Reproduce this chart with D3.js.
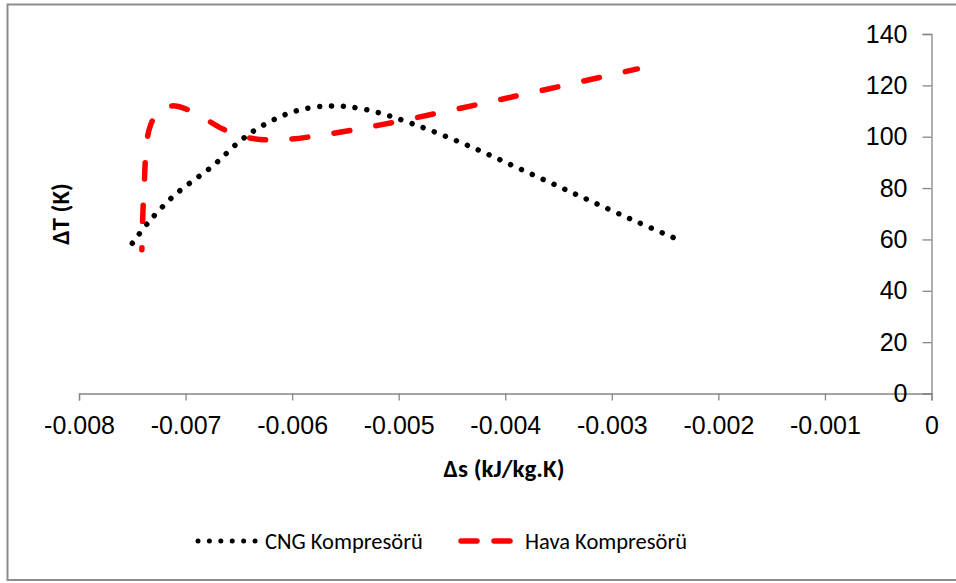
<!DOCTYPE html>
<html>
<head>
<meta charset="utf-8">
<script src="https://cdn.jsdelivr.net/npm/d3@7"></script>
<style>
  body { margin: 0; background: #fff; }
  svg { display: block; font-family: Carlito, "Open Sans", "Noto Sans", sans-serif; }
</style>
</head>
<body>
<svg id="chart" width="956" height="583"></svg>
<script>
// values
const cngS  = [-0.00750, -0.00735, -0.00711, -0.00674, -0.00649, -0.00630, -0.00599, -0.00564, -0.00530, -0.00486, -0.00433, -0.00380, -0.00328, -0.00280, -0.00241];
const cngT  = [58.5, 66.6, 77, 88.8, 98.3, 103.8, 109.7, 112, 110.5, 104.9, 96.2, 86.3, 76.5, 67.5, 60.5];
const havaS = [-0.00741, -0.00739, -0.00734, -0.00724, -0.00710, -0.00690, -0.00665, -0.00640, -0.00610, -0.00570, -0.00517, -0.00442, -0.00364, -0.00276];
const havaT = [56, 80, 103, 110.5, 112, 109, 103, 99.5, 98.8, 100.8, 104.6, 111.1, 118.2, 126.4];
const xTicks = [-0.008, -0.007, -0.006, -0.005, -0.004, -0.003, -0.002, -0.001, 0];
const yTicks = [0, 20, 40, 60, 80, 100, 120, 140];
const seriesNames = ["CNG Kompresörü", "Hava Kompresörü"];

const svg = d3.select("#chart");
const tickFont = "25px";
const titleFont = "25px";
const legendFont = "22.5px";

// outer chart border
svg.append("rect")
    .attr("x", 7.5).attr("y", 4.5)
    .attr("width", 960).attr("height", 575.5)
    .attr("fill", "#fff")
    .attr("stroke", "#8c8c8c")
    .attr("stroke-width", 2);

// scales
const x = d3.scaleLinear().domain([-0.008, 0]).range([79, 931.5]);
const y = d3.scaleLinear().domain([0, 140]).range([393.5, 34]);

const axisColor = "#868686";

// x axis
const xAxis = svg.append("g")
    .attr("transform", `translate(0, ${y(0)})`)
    .call(d3.axisBottom(x).tickValues(xTicks).tickSize(7).tickPadding(16)
        .tickFormat(d => d === 0 ? "0" : d3.format(".3f")(d).replace("−", "-")));
xAxis.select(".domain").attr("stroke", axisColor).attr("stroke-width", 1.3);
xAxis.selectAll(".tick line").attr("stroke", axisColor).attr("stroke-width", 1.3);
xAxis.selectAll(".tick text").attr("font-size", tickFont).attr("fill", "#000");

// y axis sits on the right edge (at x = 0)
const yAxis = svg.append("g")
    .attr("transform", `translate(${x(0)}, 0)`)
    .call(d3.axisLeft(y).tickValues(yTicks).tickSize(9).tickPadding(15));
yAxis.select(".domain").attr("stroke", axisColor).attr("stroke-width", 1.3);
yAxis.selectAll(".tick line").attr("stroke", axisColor).attr("stroke-width", 1.3);
yAxis.selectAll(".tick text").attr("font-size", tickFont).attr("fill", "#000");

// axis titles
svg.append("text")
    .attr("x", 504).attr("y", 477)
    .attr("text-anchor", "middle")
    .attr("font-size", titleFont).attr("font-weight", "bold")
    .text("Δs (kJ/kg.K)");

svg.append("text")
    .attr("transform", "translate(69, 214) rotate(-90)")
    .attr("text-anchor", "middle")
    .attr("font-size", titleFont).attr("font-weight", "bold")
    .text("ΔT (K)");

// lines
const line = d3.line()
    .x(d => x(d[0]))
    .y(d => y(d[1]))
    .curve(d3.curveCatmullRom.alpha(0.5));

const cngData  = cngS.map((s, i) => [s, cngT[i]]);
const havaData = havaS.map((s, i) => [s, havaT[i]]);

svg.append("path")
    .datum(cngData)
    .attr("d", line)
    .attr("fill", "none")
    .attr("stroke", "#000")
    .attr("stroke-width", 5.5)
    .attr("stroke-linecap", "round")
    .attr("stroke-dasharray", "0.01 11.85");

svg.append("path")
    .datum(havaData)
    .attr("d", line)
    .attr("fill", "none")
    .attr("stroke", "#ff0000")
    .attr("stroke-width", 5.5)
    .attr("stroke-linecap", "round")
    .attr("stroke-dasharray", "16 26.5")
    .attr("stroke-dashoffset", 14);

// legend
const legY = 541;
const legend = svg.append("g");
legend.append("line")
    .attr("x1", 198).attr("x2", 256).attr("y1", legY).attr("y2", legY)
    .attr("stroke", "#000").attr("stroke-width", 5)
    .attr("stroke-linecap", "round")
    .attr("stroke-dasharray", "0.01 11.4");
legend.append("text")
    .attr("x", 265).attr("y", legY).attr("dy", "0.35em")
    .attr("font-size", legendFont)
    .text(seriesNames[0]);

legend.append("line")
    .attr("x1", 461).attr("x2", 511).attr("y1", legY).attr("y2", legY)
    .attr("stroke", "#ff0000").attr("stroke-width", 5.5)
    .attr("stroke-linecap", "round")
    .attr("stroke-dasharray", "16 17");
legend.append("text")
    .attr("x", 525).attr("y", legY).attr("dy", "0.35em")
    .attr("font-size", legendFont)
    .text(seriesNames[1]);
</script>
</body>
</html>
